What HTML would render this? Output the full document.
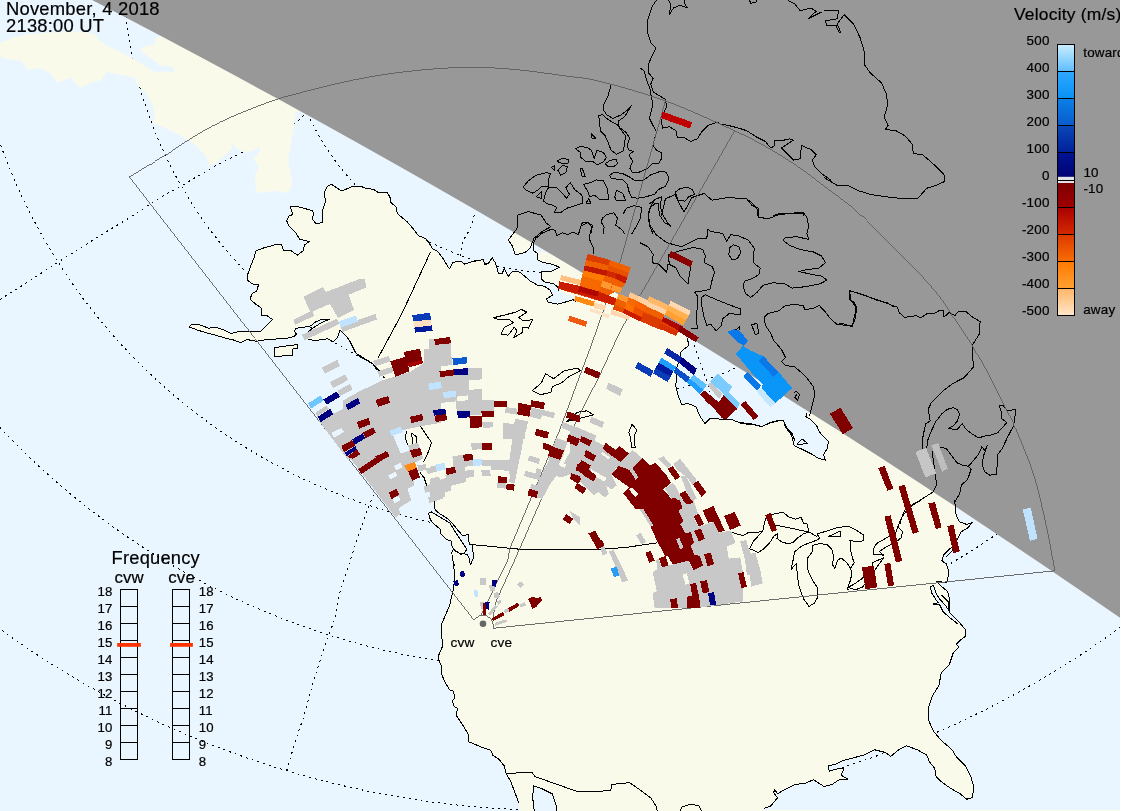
<!DOCTYPE html><html><head><meta charset="utf-8"><title>SuperDARN cvw/cve velocity map</title>
<style>html,body{margin:0;padding:0;background:#fff}body{width:1124px;height:811px;overflow:hidden}svg{display:block}text{font-family:"Liberation Sans",Arial,Helvetica,sans-serif;fill:#000;letter-spacing:0.22px;stroke:#000;stroke-width:0.2px}</style></head><body>
<svg width="1124" height="811" viewBox="0 0 1124 811">
<rect x="0" y="0" width="1124" height="811" fill="#fff"/>
<defs><clipPath id="cp"><rect x="0" y="0" width="1120" height="811"/></clipPath></defs>
<g clip-path="url(#cp)">
<rect x="0" y="0" width="1120" height="811" fill="#EAF6FF"/>
<g fill="none" stroke="#000" stroke-width="1" stroke-dasharray="1.9 4.1" shape-rendering="crispEdges">
<path d="M0.0 299.5 L26.7 282.7 L57.4 262.7 L101.4 234.7 L128.1 218.7 L160.1 197.5 L184.2 184.2 L213.5 166.8 L242.9 152.1 L296.3 122.8 L305.3 113.4"/>
<path d="M474.3 215.1 L472.8 221.4 L470.7 227.6 L467.2 233.8 L463.6 240.0 L461.8 246.3 L460.9 253.4 L460.6 256.9"/>
<path d="M694.3 345.4 L697.0 353.4 L699.6 362.3 L703.2 371.2 L705.9 378.3 L707.7 383.6 L709.4 392.5"/>
<path d="M373.4 494.7 L366.7 512.1 L357.4 538.8 L349.4 562.8 L340.0 592.1 L334.7 619.0 L328.0 637.7 L318.7 664.4 L310.7 691.1 L302.7 720.4 L300.0 727.1 L293.6 747.1 L286.9 769.8"/>
<circle cx="555.7" cy="-0.5" r="273.1"/>
<circle cx="559.6" cy="-30.8" r="436.0"/>
<circle cx="556.7" cy="-54.9" r="590.9"/>
<circle cx="560.0" cy="-95.9" r="766.5"/>
<circle cx="559.0" cy="-141.3" r="951.8"/>
</g>
<g fill="#FAFAEB" stroke="none">
<path d="M380.0 371.2 L375.7 368.5 L373.1 364.1 L366.8 360.5 L359.7 356.9 L356.2 353.4 L353.5 348.0 L349.9 340.9 L346.4 336.5 L340.1 330.2 L337.5 337.4 L333.0 341.8 L327.7 338.8 L315.2 340.6 L308.1 339.1 L304.6 335.6 L312.6 328.1 L322.3 322.2 L329.5 319.2 L320.6 319.6 L315.2 322.2 L310.8 325.8 L302.8 327.6 L296.5 328.1 L293.9 331.1 L296.5 333.8 L293.9 336.5 L286.8 338.3 L279.6 338.8 L267.2 339.5 L256.5 341.3 L246.7 339.5 L240.5 342.7 L233.4 340.0 L226.3 338.3 L215.6 335.2 L206.7 332.9 L197.8 330.2 L189.3 327.0 L191.6 324.0 L199.6 324.9 L208.5 328.1 L216.5 327.6 L224.5 330.2 L230.7 333.5 L238.7 331.7 L251.2 332.0 L261.0 331.1 L272.5 319.6 L266.3 315.1 L261.5 316.0 L262.0 314.0 L261.1 307.9 L254.9 303.5 L249.9 299.0 L252.2 293.7 L256.7 291.0 L258.5 284.8 L252.2 283.9 L247.8 280.3 L247.8 275.0 L250.5 266.1 L254.0 258.1 L255.8 251.0 L263.8 247.9 L275.4 244.7 L281.6 244.4 L283.7 251.0 L290.5 250.4 L297.3 255.1 L303.0 251.0 L304.7 244.7 L309.2 241.5 L299.4 239.0 L295.8 232.6 L289.6 226.9 L286.6 220.7 L288.7 216.3 L292.6 214.5 L290.5 206.8 L297.6 206.5 L312.2 210.6 L314.0 214.1 L311.9 218.9 L316.3 223.9 L322.2 222.5 L322.5 210.9 L325.2 202.0 L324.7 191.4 L327.0 186.9 L331.1 184.2 L341.7 191.0 L352.8 186.4 L359.9 186.0 L365.2 188.1 L374.1 189.6 L377.7 192.2 L387.5 192.8 L390.1 197.6 L390.1 201.7 L396.4 207.4 L397.3 213.6 L407.0 221.6 L412.4 227.8 L418.6 235.8 L425.7 238.5 L430.0 243.8 L425.3 238.3 L428.9 242.7 L432.5 248.9 L437.8 251.6 L443.1 258.7 L449.4 269.0 L452.9 262.3 L460.9 261.4 L464.5 264.1 L473.4 261.4 L483.2 259.6 L484.9 264.9 L488.5 263.2 L492.1 257.8 L495.6 263.2 L498.3 273.0 L501.9 273.8 L504.5 268.5 L508.1 276.5 L512.5 271.2 L519.6 272.1 L525.0 276.5 L530.3 281.0 L537.4 285.1 L544.6 286.3 L549.9 289.9 L552.6 295.2 L546.3 298.8 L548.1 302.3 L557.9 304.1 L567.7 301.4 L573.0 299.6 L576.6 302.3 L585.0 272.0 L690.0 333.0 L687.2 338.3 L689.0 345.4 L681.0 351.6 L679.2 360.5 L676.5 368.5 L676.9 378.3 L675.6 385.4 L678.3 396.1 L681.9 405.0 L687.2 403.2 L696.1 406.8 L699.6 415.7 L705.0 423.7 L710.3 418.3 L721.0 419.2 L731.7 419.6 L742.3 423.7 L753.0 424.6 L761.9 426.3 L770.8 422.8 L777.9 421.0 L783.3 420.6 L786.8 428.1 L792.2 433.5 L794.8 440.6 L740.0 422.7 L750.7 423.6 L761.4 426.6 L770.2 422.7 L777.4 420.6 L783.6 420.6 L785.4 427.2 L791.6 435.2 L794.3 445.8 L802.3 449.4 L811.2 453.8 L818.3 458.3 L825.4 460.1 L823.6 454.7 L827.2 448.5 L828.4 441.4 L823.6 436.9 L819.2 431.6 L816.5 425.4 L811.2 420.0 L805.8 416.5 L806.7 412.9 L812.0 414.0 L950.0 500.0 L955.7 506.7 L956.1 515.6 L959.6 521.8 L966.8 524.5 L972.1 522.7 L967.7 528.0 L961.4 531.6 L957.0 539.6 L956.1 544.1 L950.7 548.5 L943.6 554.7 L941.9 561.0 L946.3 563.6 L948.1 569.0 L948.1 577.0 L946.7 582.8 L940.1 581.8 L936.9 581.8 L942.2 587.1 L947.5 591.2 L949.3 598.3 L949.0 610.8 L945.4 605.4 L940.1 599.6 L936.2 593.9 L933.3 585.0 L930.8 586.8 L931.2 592.1 L935.6 599.2 L938.3 602.8 L933.0 604.0 L939.7 604.9 L943.3 612.0 L949.0 617.0 L957.9 624.0 L941.4 595.0 L948.1 601.7 L949.4 612.3 L957.5 620.4 L965.5 629.7 L965.5 636.4 L960.1 640.4 L956.1 644.4 L958.8 647.0 L953.4 652.4 L949.4 664.4 L941.4 672.4 L938.8 685.7 L932.1 696.4 L928.6 707.1 L928.6 720.4 L933.4 731.1 L941.4 740.5 L952.1 749.8 L956.1 756.5 L965.5 765.8 L970.8 776.5 L974.0 787.2 L972.1 797.8 L966.8 799.2 L960.1 793.8 L950.8 788.5 L941.4 781.8 L936.1 776.5 L934.8 768.5 L929.4 761.8 L926.8 755.1 L917.4 749.8 L906.7 745.8 L898.7 749.8 L890.7 756.5 L885.4 752.5 L874.7 749.8 L864.0 755.1 L853.4 757.8 L842.7 760.5 L834.7 764.5 L828.0 765.8 L829.3 771.2 L838.7 768.5 L844.0 768.5 L841.3 775.2 L848.0 779.2 L840.0 779.2 L832.0 784.5 L824.0 786.6 L824.2 786.6 L813.5 779.7 L805.5 783.2 L794.8 784.5 L784.2 789.8 L777.5 793.8 L774.8 789.8 L773.5 792.5 L777.5 797.8 L770.8 805.9 L764.1 808.5 L763.3 816.5 L520.2 816.5 L518.9 803.2 L514.9 792.5 L510.9 781.8 L506.0 773.3 L504.2 765.8 L498.8 759.1 L492.7 755.1 L490.8 750.3 L481.5 747.1 L468.7 741.8 L468.1 733.8 L461.5 723.1 L456.1 715.1 L457.5 708.4 L453.5 705.8 L452.7 700.4 L454.8 697.8 L453.5 691.1 L449.5 689.8 L445.5 683.1 L442.0 675.1 L441.5 665.7 L438.3 659.1 L438.8 655.1 L442.8 645.7 L441.5 635.0 L441.5 624.4 L445.5 615.0 L449.5 605.7 L452.1 595.0 L453.5 589.5 L454.3 581.5 L454.8 573.5 L453.5 565.5 L454.4 566.0 L452.5 559.0 L451.8 552.6 L453.4 549.4 L456.6 551.7 L459.8 553.7 L464.1 553.7 L467.3 554.7 L469.4 559.0 L469.2 562.2 L470.7 564.1 L473.4 558.5 L472.6 544.6 L469.2 544.1 L468.3 534.4 L463.0 536.0 L458.7 531.2 L454.4 525.9 L450.2 521.1 L445.9 517.4 L440.6 514.2 L436.3 511.0 L434.4 507.8 L434.2 501.9 L432.0 491.7 L426.7 485.3 L424.6 480.0 L424.5 478.3 L420.0 472.5 L419.0 466.0 L421.0 460.0 L415.0 452.0 L408.0 445.0 L405.0 438.0 L406.0 431.0 L404.0 422.0 L398.0 410.0 L392.0 398.0 L386.0 385.0 L378.3 369.4 L372.0 363.1 L356.0 353.3 L348.9 340.0Z"/>
<path d="M-2.7 44.0 L13.3 37.4 L26.7 34.2 L53.4 32.6 L80.1 31.5 L93.4 33.4 L98.8 40.0 L106.8 45.4 L120.1 52.0 L133.5 58.7 L144.1 65.4 L154.8 72.1 L165.5 71.5 L173.5 72.6 L174.8 69.9 L170.8 66.2 L160.1 65.4 L153.5 60.1 L144.1 53.4 L140.1 49.4 L145.5 45.9 L154.8 44.0 L156.1 37.4 L160.1 36.0 L170.8 32.0 L300.0 101.4 L300.0 110.8 L296.3 112.1 L293.6 128.1 L288.3 160.1 L289.6 170.8 L292.3 184.2 L288.3 192.2 L277.6 190.8 L256.2 192.2 L254.9 174.8 L258.9 166.8 L253.6 158.8 L260.2 150.8 L258.9 146.8 L253.6 150.8 L242.9 152.1 L234.9 146.8 L230.9 142.8 L232.2 148.1 L226.9 153.5 L216.2 162.8 L208.2 165.5 L206.8 157.5 L197.5 146.8 L181.5 136.1 L165.5 128.1 L152.1 122.8 L154.8 117.4 L153.5 106.8 L145.5 92.1 L137.5 85.4 L134.8 77.4 L120.1 74.7 L106.8 72.1 L101.4 80.1 L90.7 82.7 L80.1 88.1 L70.7 77.4 L57.4 82.7 L50.7 73.4 L40.0 68.1 L28.0 69.9 L21.4 60.9 L8.0 59.3 L-2.7 56.0Z"/>
<path d="M255.8 173.6 L258.5 170.9 L265.6 164.7 L288.7 166.4 L291.4 177.1 L290.5 187.8 L288.7 192.2 L279.8 192.2 L276.3 190.5 L265.6 191.4 L257.6 193.1 L255.8 187.8Z"/>
<path d="M274.7 347.7 L286.8 345.9 L297.4 344.5 L297.8 348.4 L293.0 348.9 L292.5 355.2 L282.3 356.0 L274.7 356.6Z"/>
<path d="M428.8 513.1 L431.5 512.0 L435.2 514.2 L440.6 517.4 L445.9 520.6 L450.2 523.2 L452.3 527.0 L455.5 532.3 L459.8 538.7 L464.1 545.1 L466.7 549.4 L464.6 553.1 L460.9 554.2 L457.6 552.1 L453.4 548.9 L451.2 544.6 L451.8 541.4 L447.0 539.8 L442.7 535.5 L440.0 533.4 L440.6 529.6 L436.3 525.9 L432.0 522.2 L429.4 517.4Z"/>
<path d="M508.4 240.0 L517.0 228.5 L517.9 215.1 L528.5 211.6 L541.0 215.1 L546.3 223.1 L550.8 226.7 L542.8 231.1 L533.9 238.3 L530.3 248.0 L525.0 252.5 L515.2 254.8 L512.5 246.3Z"/>
<path d="M533.9 250.7 L537.4 253.4 L537.4 259.6 L542.8 262.3 L551.7 264.1 L559.7 267.3 L551.7 271.2 L541.9 271.2 L541.0 278.3 L544.6 281.9 L553.5 283.6 L557.9 287.2 L558.8 290.7 L565.9 294.3 L580.1 299.6 L600.0 290.0 L560.0 255.0Z"/>
</g>
<g fill="#EAF6FF" stroke="none">
<path d="M533.5 785.8 L541.5 788.5 L552.2 793.8 L556.2 805.9 L557.8 816.5 L534.9 816.5 L532.7 797.8Z"/>
</g>
<path d="M80.0 -6.3 L120.0 14.5 L160.0 35.5 L200.0 56.8 L240.0 78.3 L280.0 100.0 L320.0 122.0 L360.0 144.3 L400.0 166.8 L440.0 189.5 L480.0 212.6 L520.0 235.8 L560.0 259.4 L600.0 283.2 L640.0 307.2 L680.0 331.6 L720.0 356.2 L760.0 381.1 L800.0 406.2 L840.0 431.6 L880.0 457.3 L920.0 483.3 L960.0 509.6 L1000.0 536.2 L1040.0 563.0 L1080.0 590.2 L1120.0 617.7 L1124.0 620.4 L1130.0 630.0 L1130.0 -60.0 L80.0 -60.0Z" fill="#989898"/>
<g fill="none" stroke="#000" stroke-width="1" stroke-linejoin="round" shape-rendering="crispEdges">
<path d="M274.7 347.7 L286.8 345.9 L297.4 344.5 L297.8 348.4 L293.0 348.9 L292.5 355.2 L282.3 356.0 L274.7 356.6Z"/>
<path d="M428.8 513.1 L431.5 512.0 L435.2 514.2 L440.6 517.4 L445.9 520.6 L450.2 523.2 L452.3 527.0 L455.5 532.3 L459.8 538.7 L464.1 545.1 L466.7 549.4 L464.6 553.1 L460.9 554.2 L457.6 552.1 L453.4 548.9 L451.2 544.6 L451.8 541.4 L447.0 539.8 L442.7 535.5 L440.0 533.4 L440.6 529.6 L436.3 525.9 L432.0 522.2 L429.4 517.4Z"/>
<path d="M508.4 240.0 L517.0 228.5 L517.9 215.1 L528.5 211.6 L541.0 215.1 L546.3 223.1 L550.8 226.7 L542.8 231.1 L533.9 238.3 L530.3 248.0 L525.0 252.5 L515.2 254.8 L512.5 246.3Z"/>
<path d="M749.4 548.9 L753.8 540.9 L762.7 531.1 L764.5 523.1 L766.3 516.9 L773.4 514.2 L783.2 512.1 L788.5 516.9 L795.6 519.2 L801.0 517.4 L803.6 523.1 L807.2 524.0 L809.0 532.0 L803.6 533.8 L798.3 537.4 L793.0 542.7 L787.6 543.6 L781.4 541.8 L776.9 538.3 L777.8 533.8 L774.3 535.6 L769.8 542.7 L763.6 548.9 L758.3 552.5 L752.9 549.8Z"/>
<path d="M812.5 541.8 L802.7 545.4 L794.7 551.6 L793.0 560.5 L791.2 569.4 L796.5 563.2 L797.4 576.5 L799.2 587.2 L803.6 598.8 L809.0 606.4 L814.3 603.2 L817.9 597.0 L817.0 587.2 L812.5 580.1 L808.1 571.2 L807.2 558.7 L812.5 551.6 L812.9 545.4 L819.6 543.6 L826.8 544.5 L832.1 549.8 L833.9 558.7 L832.1 564.1 L834.8 568.5 L837.4 560.5 L841.0 557.8 L846.3 562.3 L850.8 568.5 L854.3 562.3 L852.6 558.7 L850.8 551.6 L849.9 540.0 L855.2 541.8 L863.2 540.9 L863.2 534.7 L855.2 529.4 L848.1 526.3 L837.4 527.6 L826.8 531.1 L817.0 533.8 L819.6 538.3 L817.0 540.0Z"/>
<path d="M828.5 536.5 L840.1 531.1 L841.0 536.5Z"/>
<path d="M848.1 587.2 L855.2 583.6 L862.3 578.3 L871.2 571.2 L873.0 562.3 L883.7 557.8 L881.0 561.4 L876.6 567.6 L871.2 574.7 L867.7 581.0 L862.3 587.2 L855.2 589.9Z"/>
<path d="M873.0 549.8 L876.6 543.6 L887.3 537.4 L895.3 533.8 L897.9 526.7 L902.4 531.1 L901.5 537.4 L895.3 542.7 L885.5 547.2 L879.3 551.6 L883.7 555.2 L873.9 554.3Z"/>
<path d="M493.3 317.8 L505.4 314.8 L516.1 312.1 L521.4 309.4 L526.8 312.1 L518.8 317.4 L523.2 321.0 L532.5 319.6 L528.5 328.1 L522.3 327.2 L522.3 332.6 L513.4 337.9 L517.0 330.8 L514.3 327.2 L508.1 335.2 L501.0 334.3 L504.5 327.2 L513.4 322.8 L509.0 319.2 L498.3 319.6Z"/>
<path d="M532.2 390.8 L541.5 382.8 L545.5 373.5 L553.6 378.8 L564.2 370.8 L577.6 368.1 L580.2 370.8 L569.6 376.1 L561.6 382.8 L552.2 386.8 L550.9 392.2 L540.2 394.8Z"/>
<path d="M566.9 421.5 L577.6 412.2 L586.9 410.8 L593.6 414.8 L582.9 417.5Z"/>
<path d="M632.0 424.2 L636.8 429.9 L634.2 436.1 L635.2 447.7 L631.7 447.7 L630.6 437.9 L628.8 432.6Z"/>
<path d="M796.9 444.1 L802.3 439.1 L807.3 443.2 L800.5 444.4Z"/>
<path d="M523.1 187.0 L528.5 180.7 L535.6 175.4 L546.3 172.7 L550.7 173.6 L548.0 180.7 L548.0 187.0 L541.8 186.1 L538.3 189.6 L532.9 193.2 L526.7 190.5Z"/>
<path d="M543.6 201.2 L545.4 193.2 L548.9 187.0 L556.9 187.9 L562.3 193.2 L566.7 198.5 L569.4 194.1 L565.8 187.9 L570.3 182.5 L574.7 189.6 L581.9 195.0 L582.7 203.0 L574.7 205.7 L566.7 208.3 L560.5 212.8 L554.3 212.8 L556.9 207.4 L551.6 204.8 L547.2 203.9Z"/>
<path d="M536.5 196.8 L541.8 191.4 L541.8 198.5Z"/>
<path d="M556.9 161.2 L562.3 158.5 L568.5 159.4 L568.5 163.0 L562.3 163.8Z"/>
<path d="M557.8 170.1 L562.3 165.6 L567.3 166.5 L565.8 172.7 L560.5 175.1Z"/>
<path d="M551.6 167.4 L554.8 165.6 L554.3 170.1Z"/>
<path d="M575.6 148.7 L580.1 146.6 L587.2 147.3 L591.6 150.5 L594.3 158.5 L597.0 150.5 L603.2 152.3 L606.4 157.6 L603.2 162.1 L597.0 164.7 L592.5 161.2 L585.4 161.2 L581.0 157.6 L580.1 152.3Z"/>
<path d="M605.0 163.8 L610.3 160.3 L616.5 159.4 L617.4 163.8 L613.9 166.5 L607.7 166.2Z"/>
<path d="M580.1 168.3 L582.2 168.3 L585.1 176.3 L582.2 176.7Z"/>
<path d="M591.1 133.6 L595.7 138.0 L591.6 138.0Z"/>
<path d="M586.3 203.0 L588.6 198.5 L590.7 203.0Z"/>
<path d="M583.6 184.3 L590.7 182.5 L596.1 179.9 L603.2 180.7 L607.7 189.6 L608.5 199.4 L599.6 199.4 L594.3 195.0 L589.9 196.8 L587.2 190.5Z"/>
<path d="M614.8 196.8 L616.5 190.5 L622.8 193.2 L625.4 200.3 L615.7 200.0Z"/>
<path d="M598.8 115.8 L602.3 114.6 L606.8 118.5 L612.1 122.0 L617.4 124.7 L621.0 130.0 L625.4 135.4 L624.6 145.2 L622.8 151.4 L616.5 154.1 L611.2 150.5 L607.7 141.6 L605.0 135.4 L600.5 130.9 L599.6 123.8Z"/>
<path d="M609.4 175.4 L613.9 172.2 L622.8 173.6 L629.9 177.2 L635.2 180.7 L644.1 179.9 L651.2 174.5 L660.1 171.5 L666.4 172.2 L669.0 179.0 L665.5 186.1 L658.4 189.6 L654.8 194.1 L645.9 196.8 L637.9 198.2 L631.7 197.7 L629.0 191.4 L627.2 184.3 L622.8 179.9 L615.7 179.0 L611.2 178.1Z"/>
<path d="M675.3 192.3 L679.7 188.8 L686.8 187.0 L692.2 189.6 L694.8 194.1 L688.6 196.8 L685.1 201.2 L677.9 200.3Z"/>
<path d="M729.4 248.0 L733.4 244.8 L738.8 246.7 L740.9 252.0 L737.4 258.7 L732.1 260.1 L728.9 254.7Z"/>
<path d="M701.4 297.4 L705.4 294.8 L717.4 300.1 L730.7 305.4 L740.9 308.9 L740.1 314.8 L729.4 313.4 L722.7 318.8 L721.4 325.4 L716.1 330.8 L710.7 324.1 L706.7 325.4 L704.1 317.4 L701.9 306.8Z"/>
<path d="M751.6 324.9 L756.9 323.3 L758.8 333.5 L755.3 334.3Z"/>
<path d="M734.8 330.8 L739.3 326.8 L738.8 332.1Z"/>
<path d="M380.0 371.2 L375.7 368.5 L373.1 364.1 L366.8 360.5 L359.7 356.9 L356.2 353.4 L353.5 348.0 L349.9 340.9 L346.4 336.5 L340.1 330.2 L337.5 337.4 L333.0 341.8 L327.7 338.8 L315.2 340.6 L308.1 339.1 L304.6 335.6 L312.6 328.1 L322.3 322.2 L329.5 319.2 L320.6 319.6 L315.2 322.2 L310.8 325.8 L302.8 327.6 L296.5 328.1 L293.9 331.1 L296.5 333.8 L293.9 336.5 L286.8 338.3 L279.6 338.8 L267.2 339.5 L256.5 341.3 L246.7 339.5 L240.5 342.7 L233.4 340.0 L226.3 338.3 L215.6 335.2 L206.7 332.9 L197.8 330.2 L189.3 327.0 L191.6 324.0 L199.6 324.9 L208.5 328.1 L216.5 327.6 L224.5 330.2 L230.7 333.5 L238.7 331.7 L251.2 332.0 L261.0 331.1 L272.5 319.6 L266.3 315.1 L261.5 316.0 L262.0 314.0 L261.1 307.9 L254.9 303.5 L249.9 299.0 L252.2 293.7 L256.7 291.0 L258.5 284.8 L252.2 283.9 L247.8 280.3 L247.8 275.0 L250.5 266.1 L254.0 258.1 L255.8 251.0 L263.8 247.9 L275.4 244.7 L281.6 244.4 L283.7 251.0 L290.5 250.4 L297.3 255.1 L303.0 251.0 L304.7 244.7 L309.2 241.5 L299.4 239.0 L295.8 232.6 L289.6 226.9 L286.6 220.7 L288.7 216.3 L292.6 214.5 L290.5 206.8 L297.6 206.5 L312.2 210.6 L314.0 214.1 L311.9 218.9 L316.3 223.9 L322.2 222.5 L322.5 210.9 L325.2 202.0 L324.7 191.4 L327.0 186.9 L331.1 184.2 L341.7 191.0 L352.8 186.4 L359.9 186.0 L365.2 188.1 L374.1 189.6 L377.7 192.2 L387.5 192.8 L390.1 197.6 L390.1 201.7 L396.4 207.4 L397.3 213.6 L407.0 221.6 L412.4 227.8 L418.6 235.8 L425.7 238.5 L430.0 243.8"/>
<path d="M425.3 238.3 L428.9 242.7 L432.5 248.9 L437.8 251.6 L443.1 258.7 L449.4 269.0 L452.9 262.3 L460.9 261.4 L464.5 264.1 L473.4 261.4 L483.2 259.6 L484.9 264.9 L488.5 263.2 L492.1 257.8 L495.6 263.2 L498.3 273.0 L501.9 273.8 L504.5 268.5 L508.1 276.5 L512.5 271.2 L519.6 272.1 L525.0 276.5 L530.3 281.0 L537.4 285.1 L544.6 286.3 L549.9 289.9 L552.6 295.2 L546.3 298.8 L548.1 302.3 L557.9 304.1 L567.7 301.4 L573.0 299.6 L576.6 302.3"/>
<path d="M687.2 338.3 L689.0 345.4 L681.0 351.6 L679.2 360.5 L676.5 368.5 L676.9 378.3 L675.6 385.4 L678.3 396.1 L681.9 405.0 L687.2 403.2 L696.1 406.8 L699.6 415.7 L705.0 423.7 L710.3 418.3 L721.0 419.2 L731.7 419.6 L742.3 423.7 L753.0 424.6 L761.9 426.3 L770.8 422.8 L777.9 421.0 L783.3 420.6 L786.8 428.1 L792.2 433.5 L794.8 440.6"/>
<path d="M740.0 422.7 L750.7 423.6 L761.4 426.6 L770.2 422.7 L777.4 420.6 L783.6 420.6 L785.4 427.2 L791.6 435.2 L794.3 445.8 L802.3 449.4 L811.2 453.8 L818.3 458.3 L825.4 460.1 L823.6 454.7 L827.2 448.5 L828.4 441.4 L823.6 436.9 L819.2 431.6 L816.5 425.4 L811.2 420.0 L805.8 416.5 L806.7 412.9"/>
<path d="M809.5 415.9 L812.2 405.5 L814.8 394.8 L813.5 386.8 L805.5 376.2 L794.8 366.8 L785.5 365.5 L781.5 361.5 L785.5 357.5 L781.5 349.5 L773.5 340.1 L770.8 333.5 L765.4 325.4 L764.1 317.4"/>
<path d="M764.1 317.4 L768.1 313.4 L778.8 310.8 L785.5 305.4 L794.8 304.6 L803.3 305.4 L804.9 310.0 L813.5 308.1 L819.4 305.4 L824.2 310.8 L829.5 317.4 L836.2 324.1 L845.5 325.4 L852.2 326.0 L854.9 314.8 L855.7 306.8 L850.9 300.1 L849.5 290.7 L866.9 296.1 L885.5 302.8 L896.2 306.8"/>
<path d="M820.0 307.4 L825.3 311.8 L830.7 318.9 L836.9 324.3 L842.2 323.4 L852.0 326.6 L855.6 318.0 L856.5 307.4 L853.8 302.0 L849.4 299.4 L849.4 290.5 L849.4 290.5 L860.9 294.0 L876.9 300.2 L887.6 302.9 L893.0 306.5 L897.4 307.0 L899.2 312.7 L904.5 317.2 L911.6 316.6 L916.1 315.4 L920.5 318.0 L927.7 313.2 L933.9 313.6 L939.2 310.6 L943.7 310.0 L944.0 317.2 L949.0 312.7 L955.2 315.4 L957.9 311.8 L965.9 311.3 L971.2 316.3 L980.1 321.6 L979.3 334.1 L972.1 345.6 L973.4 367.0 L964.1 377.7 L957.0 381.2"/>
<path d="M959.6 380.0 L951.6 384.4 L944.5 389.8 L937.4 396.9 L931.1 403.1 L928.1 409.4 L929.4 415.6 L930.2 420.9 L925.8 423.6 L924.0 431.6 L922.2 440.5 L922.2 448.5"/>
<path d="M926.7 448.5 L927.6 440.5 L931.1 431.6 L935.6 421.8 L941.8 413.8 L947.2 409.4 L953.4 407.6 L957.8 410.2 L959.6 414.7 L956.9 421.8 L952.5 426.3 L948.0 428.4 L956.9 429.8 L962.3 423.6 L965.8 428.9 L971.2 433.4 L978.3 437.8 L985.4 436.0 L992.5 434.8 L997.9 432.5 L1003.2 426.6 L1006.8 422.7 L1001.4 418.3 L1001.1 411.1 L999.3 405.4 L1003.2 405.8 L1006.8 410.2 L1015.7 409.9 L1014.8 417.4 L1013.5 425.9 L1006.8 438.7 L1002.3 448.5 L997.0 455.6 L997.5 463.6 L996.1 474.3 L989.9 475.2 L984.5 471.6 L982.2 464.5 L983.6 455.6 L987.2 445.8 L984.5 450.3 L981.9 446.7 L978.3 454.7 L973.0 461.0 L968.5 466.3 L971.2 469.0 L967.6 479.6 L961.4 485.0 L959.6 493.9 L954.3 502.8"/>
<path d="M968.5 466.3 L963.2 465.4 L956.9 462.7 L951.6 455.6 L946.3 448.5 L940.0 447.3"/>
<path d="M932.0 451.2 L935.6 476.1 L936.5 485.0 L932.9 492.1 L916.0 502.8 L907.1 509.9 L901.8 517.0 L900.0 524.0"/>
<path d="M954.3 500.5 L955.7 506.7 L956.1 515.6 L959.6 521.8 L966.8 524.5 L972.1 522.7 L967.7 528.0 L961.4 531.6 L957.0 539.6 L956.1 544.1 L950.7 548.5 L943.6 554.7 L941.9 561.0 L946.3 563.6 L948.1 569.0 L948.1 577.0 L946.7 582.8 L940.1 581.8 L936.9 581.8 L942.2 587.1 L947.5 591.2 L949.3 598.3 L949.0 610.8 L945.4 605.4 L940.1 599.6 L936.2 593.9 L933.3 585.0 L930.8 586.8 L931.2 592.1 L935.6 599.2 L938.3 602.8 L933.0 604.0 L939.7 604.9 L943.3 612.0 L949.0 617.0 L957.9 624.0"/>
<path d="M942.7 556.5 L949.0 549.4 L957.0 543.2 L952.5 550.3 L945.4 557.4"/>
<path d="M941.4 595.0 L948.1 601.7 L949.4 612.3 L957.5 620.4 L965.5 629.7 L965.5 636.4 L960.1 640.4 L956.1 644.4 L958.8 647.0 L953.4 652.4 L949.4 664.4 L941.4 672.4 L938.8 685.7 L932.1 696.4 L928.6 707.1 L928.6 720.4 L933.4 731.1 L941.4 740.5 L952.1 749.8 L956.1 756.5 L965.5 765.8 L970.8 776.5 L974.0 787.2 L972.1 797.8 L966.8 799.2 L960.1 793.8 L950.8 788.5 L941.4 781.8 L936.1 776.5 L934.8 768.5 L929.4 761.8 L926.8 755.1 L917.4 749.8 L906.7 745.8 L898.7 749.8 L890.7 756.5 L885.4 752.5 L874.7 749.8 L864.0 755.1 L853.4 757.8 L842.7 760.5 L834.7 764.5 L828.0 765.8 L829.3 771.2 L838.7 768.5 L844.0 768.5 L841.3 775.2 L848.0 779.2 L840.0 779.2 L832.0 784.5 L824.0 786.6"/>
<path d="M824.2 786.6 L813.5 779.7 L805.5 783.2 L794.8 784.5 L784.2 789.8 L777.5 793.8 L774.8 789.8 L773.5 792.5 L777.5 797.8 L770.8 805.9 L764.1 808.5"/>
<path d="M518.9 803.2 L514.9 792.5 L510.9 781.8 L506.0 773.3 L504.2 765.8 L498.8 759.1 L492.7 755.1 L490.8 750.3 L481.5 747.1 L468.7 741.8 L468.1 733.8 L461.5 723.1 L456.1 715.1 L457.5 708.4 L453.5 705.8 L452.7 700.4 L454.8 697.8 L453.5 691.1 L449.5 689.8 L445.5 683.1 L442.0 675.1 L441.5 665.7 L438.3 659.1 L438.8 655.1 L442.8 645.7 L441.5 635.0 L441.5 624.4 L445.5 615.0 L449.5 605.7 L452.1 595.0 L453.5 589.5 L454.3 581.5 L454.8 573.5 L453.5 565.5 L454.4 566.0 L452.5 559.0 L451.8 552.6 L453.4 549.4 L456.6 551.7 L459.8 553.7 L464.1 553.7 L467.3 554.7 L469.4 559.0 L469.2 562.2 L470.7 564.1 L473.4 558.5 L472.6 544.6 L469.2 544.1 L468.3 534.4 L463.0 536.0 L458.7 531.2 L454.4 525.9 L450.2 521.1 L445.9 517.4 L440.6 514.2 L436.3 511.0 L434.4 507.8 L434.2 501.9 L432.0 491.7 L426.7 485.3 L424.6 480.0"/>
<path d="M348.9 340.0 L356.0 353.3 L372.0 363.1 L378.3 369.4 L384.5 378.3"/>
<path d="M420.5 426.2 L431.6 442.7 L428.0 452.5 L423.6 462.3"/>
<path d="M406.5 431.0 L405.5 437.0 L406.5 442.0 L408.5 446.0"/>
<path d="M411.5 433.0 L413.0 444.0"/>
<path d="M411.5 433.0 L417.0 437.0 L416.5 443.0"/>
<path d="M420.0 472.5 L424.5 478.3 L426.7 485.8"/>
<path d="M401.5 462.0 L401.5 467.0"/>
<path d="M406.0 460.0 L410.5 462.5"/>
<path d="M430.5 252.0 L401.7 314.0 L378.0 358.0"/>
<path d="M533.9 250.7 L537.4 253.4 L537.4 259.6 L542.8 262.3 L551.7 264.1 L559.7 267.3 L551.7 271.2 L541.9 271.2 L541.0 278.3 L544.6 281.9 L553.5 283.6 L557.9 287.2 L558.8 290.7"/>
<path d="M533.9 250.7 L533.0 244.5 L535.7 238.3 L542.8 232.9 L550.8 229.4 L555.2 230.2 L557.0 235.6 L562.3 232.9 L567.7 234.7 L573.0 232.0 L578.4 234.7 L580.1 228.5 L581.9 223.1 L588.1 222.2 L591.7 226.7 L589.0 238.3 L593.5 248.0 L593.5 254.3"/>
<path d="M534.9 816.5 L532.7 797.8 L533.5 785.8 L541.5 788.5 L552.2 793.8 L556.2 805.9 L557.8 816.5"/>
<path d="M472.2 544.6 L521.5 549.4 L600.0 549.4"/>
<path d="M600.0 549.4 L626.7 547.3 L657.4 542.8"/>
<path d="M730.7 532.0 L736.0 533.8 L743.1 535.6 L749.4 532.0 L755.6 532.9 L762.7 531.1"/>
<path d="M506.0 773.3 L532.2 772.5 L534.9 776.5 L576.2 791.2 L600.0 791.2"/>
<path d="M600.0 791.2 L610.7 790.6 L612.0 784.5 L629.4 782.6 L640.0 789.8 L650.7 797.8 L656.0 805.9 L658.7 816.5"/>
<path d="M679.3 816.5 L681.4 807.2 L690.7 804.0 L698.8 805.9 L704.6 816.5"/>
<path d="M773.4 524.6 L809.0 532.0 L817.0 536.5"/>
<path d="M850.8 568.5 L851.7 574.7 L849.9 581.9 L847.2 589.0 L849.0 589.9"/>
<path d="M897.9 526.7 L901.5 517.8 L905.1 509.8 L914.0 503.6 L920.0 500.9"/>
<path d="M611.2 84.7 L607.7 97.1 L604.1 103.3 L603.2 109.6 L606.8 114.9 L613.0 118.5 L621.0 114.9 L628.1 109.6 L631.7 105.1 L624.6 116.7 L618.3 121.1 L619.2 127.4 L625.4 131.8 L629.9 138.0 L627.8 143.4 L628.1 149.6 L633.1 151.4 L629.0 154.9 L632.6 161.2 L629.9 168.3 L632.6 172.7 L640.6 171.9 L647.7 168.3 L653.0 163.0 L658.4 163.8 L661.6 158.5 L661.0 152.3 L656.6 150.5 L653.0 145.2 L654.8 138.0 L656.6 131.8 L653.0 125.6 L649.5 118.5 L651.2 111.4 L653.0 104.2 L651.2 97.1 L650.4 90.0"/>
<path d="M622.8 214.6 L626.3 208.3 L633.5 205.7 L641.5 207.4 L640.6 218.1 L637.0 225.2 L631.7 234.0"/>
<path d="M603.2 234.0 L604.1 227.0 L601.4 222.6 L602.3 218.1 L606.8 214.6 L613.9 212.8 L617.4 218.1 L615.7 225.2 L622.8 230.6 L624.6 234.0"/>
<path d="M649.5 203.9 L654.8 199.4 L661.9 196.8 L660.1 205.7 L662.8 214.6 L667.3 222.6 L670.8 226.1 L664.6 222.6 L659.3 214.6 L658.4 203.9 L654.8 203.9 L650.4 207.4 L648.6 214.6 L649.5 225.2 L653.0 234.0"/>
<path d="M578.3 234.0 L581.0 226.1 L587.2 222.6 L592.5 225.2 L590.7 234.0"/>
<path d="M660.0 -5.3 L652.0 6.7 L648.0 18.7 L647.5 32.0 L650.7 42.7 L656.0 48.0 L652.0 56.0 L648.5 64.1 L648.0 72.1 L653.3 78.7 L650.7 84.1 L653.3 92.1 L660.0 96.1 L665.4 99.3 L666.7 106.8 L662.7 114.8 L661.4 122.8 L662.7 128.1 L669.4 126.8 L676.0 130.8 L677.4 137.5 L684.0 137.5 L690.7 141.5 L697.4 138.8 L701.4 132.1 L708.1 125.4 L717.4 122.2 L720.1 124.1 L728.1 125.4 L738.8 128.1 L746.8 130.8 L757.4 137.5 L765.4 141.5 L770.8 148.1 L774.8 145.5 L774.8 140.1 L784.1 140.1 L789.5 138.8 L793.5 140.1 L781.5 148.1 L793.5 160.1 L800.1 158.8 L801.5 145.5 L810.8 149.5 L816.2 154.8 L812.2 160.1 L814.8 166.8 L821.5 173.5 L830.8 180.2"/>
<path d="M786.3 -2.7 L789.5 1.3 L794.8 4.0 L800.1 10.7 L810.8 8.0 L816.2 11.2 L808.1 18.7 L821.5 12.0"/>
<path d="M748.1 -2.7 L750.8 3.2 L756.1 2.1 L756.1 -2.7"/>
<path d="M640.0 68.1 L644.0 70.7 L646.7 80.1 L650.7 90.7"/>
<path d="M666.7 -2.7 L670.7 4.0 L669.4 14.7 L673.4 8.0 L680.0 5.3 L687.5 8.0 L684.0 2.7 L685.4 -2.7"/>
<path d="M661.4 215.9 L665.4 198.8 L674.7 194.8 L684.0 212.2 L692.0 197.5 L704.1 193.5 L712.1 200.2 L728.1 197.5 L746.8 198.8 L752.1 205.5 L758.8 208.2 L757.4 215.9"/>
<path d="M773.5 215.9 L778.8 213.5 L802.8 213.5 L804.1 215.9"/>
<path d="M824.0 10.7 L838.7 10.1 L837.3 18.7 L825.3 20.8 L826.7 25.4 L836.0 25.4 L838.7 32.0 L840.5 32.0 L837.3 24.0 L844.0 14.7 L853.4 24.0 L860.0 37.4 L864.0 50.7 L864.0 64.1 L870.7 73.4 L881.4 82.7 L886.7 94.8 L887.5 105.4 L884.1 117.4 L888.1 125.4 L885.4 129.4 L896.1 130.8 L905.4 136.1 L912.1 144.1 L913.4 153.5 L922.8 154.8 L933.4 164.1 L944.1 174.8 L944.6 181.5 L936.1 185.5 L926.8 188.2 L917.4 198.8 L904.1 198.8 L888.1 197.0 L872.0 194.8 L858.7 190.8 L848.0 185.5 L837.3 185.5 L824.0 177.5"/>
<path d="M749.4 200.0 L757.4 209.3 L758.8 217.3 L768.1 218.7 L778.8 214.7 L792.1 213.3 L802.8 212.0 L806.8 217.3 L808.7 226.7 L806.8 233.4 L808.7 239.5 L797.5 236.8 L785.5 237.4 L782.8 240.0 L789.5 245.4 L800.1 249.4 L813.5 252.0 L821.5 256.0 L825.5 262.7 L818.8 268.1 L805.5 269.9 L798.8 271.5 L810.8 274.2 L821.5 276.1 L826.8 280.1 L818.8 284.1 L805.5 286.7 L792.1 288.1 L785.5 284.1 L773.5 282.7 L762.8 285.4 L757.4 292.1 L750.8 297.4 L745.4 293.4 L743.6 288.1 L744.1 281.4 L752.1 278.7 L758.8 274.7 L760.1 268.1 L753.4 262.7 L754.2 248.0 L748.1 240.0 L738.8 236.0 L730.7 234.7 L726.7 241.4 L722.7 233.4 L710.7 231.5 L708.1 228.8 L706.7 238.7 L697.4 238.7 L689.4 242.7 L681.4 246.7 L666.7 242.7 L656.0 234.7 L649.3 224.0 L648.0 213.3 L652.0 204.0 L656.0 198.7"/>
<path d="M680.0 250.7 L693.4 247.5 L702.7 249.4 L705.4 256.0 L704.1 262.7 L712.1 266.7 L714.7 272.1 L712.1 280.1 L709.9 289.4 L704.1 290.7 L694.7 292.1 L697.4 296.1 L697.4 306.8 L696.0 317.4 L697.4 328.1 L690.7 328.1"/>
<path d="M680.0 250.7 L668.0 254.7 L669.4 264.1 L676.0 268.1 L680.0 276.1 L688.0 284.1 L689.4 274.7 L690.7 266.7"/>
<path d="M640.0 242.7 L648.0 246.7 L653.3 254.7 L652.0 262.7 L658.7 264.1 L666.7 272.1 L668.0 264.1 L674.7 266.7"/>
<path d="M793.5 393.5 L796.1 390.8 L799.6 394.8 L797.5 400.2 L794.8 397.5 L796.9 394.3"/>
<path d="M820.0 275.3 L827.1 279.8 L820.0 284.2"/>
</g>
<g fill="none" stroke="#5E5E5E" stroke-width="0.9" shape-rendering="crispEdges">
<path d="M129.4 177.0 L473.6 619.6 L481.1 615.0 L485.9 615.3 L490.2 618.2 L492.3 620.9 L493.0 624.0 L493.1 628.3 L1054.9 570.8"/>
<path d="M481.1 615.0 L507.8 560.0 L509.5 549.4 L558.9 432.0 L591.7 344.0 L607.1 300.0 L620.0 262.3 L665.4 100.9"/>
<path d="M492.8 619.8 L495.5 602.7 L514.7 560.0 L570.9 432.0 L600.0 374.7 L620.0 331.7 L637.4 300.0 L734.7 130.8"/>
<path d="M129.4 177.0 C135.4 173.3 151.5 163.4 165.5 154.8 C179.5 146.2 196.6 134.1 213.5 125.4 C230.4 116.7 252.5 108.2 266.9 102.8 C281.3 97.4 285.6 96.7 300.0 92.9 C314.4 89.1 335.6 83.6 353.4 80.0 C371.2 76.4 388.1 73.6 406.8 71.5 C425.5 69.4 447.7 67.6 465.5 67.3 C483.3 67.0 496.6 67.9 513.5 69.4 C530.4 70.9 552.5 74.1 566.9 76.1 C581.3 78.1 583.6 77.3 600.0 81.4 C616.4 85.5 642.9 92.7 665.4 100.9 C687.9 109.1 717.2 122.7 734.7 130.8 C752.2 138.9 759.8 143.3 770.7 149.5 C781.6 155.7 790.8 161.7 800.1 168.1 C809.5 174.5 819.7 182.9 826.8 188.2 C833.9 193.5 837.0 195.4 842.8 200.0 C848.6 204.6 849.3 204.3 861.5 216.0 C873.7 227.7 902.9 256.4 916.0 270.0 C929.1 283.6 934.0 290.0 940.0 297.4 C946.0 304.8 946.2 306.3 951.7 314.5 C957.2 322.7 966.4 335.6 973.0 346.5 C979.6 357.4 986.0 369.3 991.6 380.0 C997.2 390.7 1003.1 403.2 1006.8 410.6 C1010.5 418.0 1009.4 413.9 1013.9 424.5 C1018.4 435.1 1028.2 457.7 1033.5 474.3 C1038.8 490.9 1042.3 507.9 1045.9 524.0 C1049.5 540.1 1053.4 563.0 1054.9 570.8"/>
</g>
<g stroke="none" shape-rendering="crispEdges">
<path d="M303.4 296.7 L322.7 287.3 L326.0 292.0 L358.7 279.3 L364.7 279.3 L366.7 287.3 L348.7 294.7 L354.1 310.0 L338.1 318.0 L330.0 304.0 L312.7 311.4 L314.0 316.0 L295.3 324.7 L293.3 320.0 L310.0 311.4Z" fill="#C8C8C8"/>
<path d="M302.0 334.7 L336.7 318.7 L339.4 324.0 L304.7 340.1Z" fill="#C8C8C8"/>
<path d="M357.4 320.0 L375.4 314.0 L377.0 319.4 L342.7 332.0 L340.7 327.4 L358.1 321.4Z" fill="#C8C8C8"/>
<path d="M322.0 367.4 L337.4 360.1 L340.1 366.1 L324.7 373.4Z" fill="#C8C8C8"/>
<path d="M330.4 382.1 L345.4 374.5 L348.1 380.1 L333.4 388.0Z" fill="#C8C8C8"/>
<path d="M373.0 360.7 L388.8 356.1 L390.5 361.4 L375.4 366.1Z" fill="#C8C8C8"/>
<path d="M377.4 371.4 L392.1 366.7 L393.4 372.1 L379.4 376.8Z" fill="#C8C8C8"/>
<path d="M318.7 420.7 L343.4 408.7 L342.7 400.7 L359.4 391.4 L383.4 380.0 L396.8 376.0 L410.1 372.0 L423.5 363.3 L423.5 348.7 L441.3 348.7 L441.3 422.7 L420.1 426.3 L403.4 430.1 L391.4 431.4 L401.4 455.4 L410.1 452.8 L408.1 446.1 L418.1 443.4 L421.5 455.4 L412.8 458.8 L347.4 458.8Z" fill="#C8C8C8"/>
<path d="M315.4 412.7 L326.7 405.4 L328.7 408.7 L317.4 416.7Z" fill="#C8C8C8"/>
<path d="M337.4 390.7 L350.1 384.0 L352.7 389.4 L340.0 396.0Z" fill="#C8C8C8"/>
<path d="M330.0 382.0 L344.7 374.7 L347.4 380.0 L332.7 387.4Z" fill="#C8C8C8"/>
<path d="M322.0 367.3 L336.7 360.0 L339.6 365.3 L324.7 373.4Z" fill="#C8C8C8"/>
<path d="M373.4 360.7 L388.8 356.0 L390.1 360.7 L375.4 365.3Z" fill="#C8C8C8"/>
<path d="M377.4 371.4 L392.1 366.7 L393.4 371.4 L379.4 376.0Z" fill="#C8C8C8"/>
<path d="M335.3 438.7 L392.7 438.7 L399.4 454.0 L410.1 450.7 L408.1 445.3 L418.1 442.7 L423.4 458.7 L415.4 462.0 L413.4 480.7 L414.1 485.4 L407.4 488.7 L411.4 500.1 L398.7 508.1 L400.7 514.1 L395.4 517.4Z" fill="#C8C8C8"/>
<path d="M417.4 465.4 L425.4 464.0 L426.8 468.7 L436.1 466.0 L436.8 471.4 L428.1 474.0 L426.1 470.0 L418.7 471.4Z" fill="#C8C8C8"/>
<path d="M452.1 456.7 L462.8 454.7 L464.8 460.7 L472.8 460.0 L473.5 465.4 L464.1 466.7 L464.8 470.7 L473.5 470.0 L474.1 476.7 L466.1 478.0 L466.1 482.0 L450.1 486.0 L450.8 490.7 L444.8 492.0 L444.8 496.7 L429.4 502.7 L428.1 497.4 L433.4 495.4 L432.8 491.4 L425.4 492.7 L423.4 486.7 L429.4 484.7 L430.1 478.7 L438.1 476.7 L439.4 480.0 L446.1 478.0 L445.4 475.4 L456.1 472.7 L454.8 466.7 L453.4 462.0Z" fill="#C8C8C8"/>
<path d="M471.5 444.0 L480.0 443.3 L480.0 448.7 L472.1 449.6Z" fill="#C8C8C8"/>
<path d="M428.7 339.3 L434.7 338.7 L435.3 344.7 L450.7 343.3 L452.0 365.0 L438.7 366.7 L439.6 376.7 L454.0 375.4 L468.0 374.7 L468.0 368.0 L482.0 368.0 L482.0 379.4 L469.0 380.0 L469.0 390.1 L482.0 388.7 L482.0 400.1 L494.1 400.1 L494.1 410.7 L481.4 411.1 L481.4 415.4 L470.0 415.4 L470.0 411.4 L456.7 411.7 L456.0 401.4 L443.3 402.7 L432.7 406.7 L433.3 422.8 L428.7 423.4Z" fill="#C8C8C8"/>
<path d="M482.3 422.1 L492.7 421.8 L492.7 427.4 L482.7 427.8Z" fill="#C8C8C8"/>
<path d="M505.8 407.1 L517.4 408.7 L516.7 414.7 L505.1 412.7Z" fill="#C8C8C8"/>
<path d="M531.2 407.4 L542.8 410.1 L554.8 412.7 L554.1 418.1 L542.1 415.4 L540.8 419.4 L529.8 416.7Z" fill="#C8C8C8"/>
<path d="M515.4 418.7 L528.1 421.4 L526.8 427.4 L525.4 431.4 L524.8 438.8 L502.7 438.8 L503.4 422.8 L514.1 424.1Z" fill="#C8C8C8"/>
<path d="M563.5 422.1 L580.0 428.8 L580.0 434.1 L562.8 427.4Z" fill="#C8C8C8"/>
<path d="M502.7 422.7 L515.4 424.7 L516.7 420.0 L528.1 421.3 L526.8 428.0 L525.4 432.0 L523.4 437.3 L522.1 446.7 L519.4 460.0 L516.7 473.4 L514.7 483.4 L508.7 482.1 L510.1 476.1 L508.7 470.7 L491.4 470.0 L490.7 466.0 L482.0 466.0 L481.8 460.0 L509.4 460.0 L512.7 437.3 L514.1 433.3 L502.7 433.3Z" fill="#C8C8C8"/>
<path d="M471.4 443.4 L482.0 443.0 L482.3 449.4 L471.6 449.6Z" fill="#C8C8C8"/>
<path d="M452.7 456.0 L463.4 455.0 L464.0 460.0 L472.7 459.4 L473.0 466.0 L464.7 466.7 L464.4 470.7 L474.0 470.0 L474.3 476.1 L466.0 477.4 L465.4 482.1 L451.4 485.4 L451.1 490.7 L443.3 492.7 L442.7 498.7 L430.0 502.7 L430.0 478.7 L439.3 476.7 L440.0 480.1 L447.3 478.1 L446.7 471.4 L453.4 469.4Z" fill="#C8C8C8"/>
<path d="M430.0 466.7 L436.0 465.4 L436.9 471.4 L430.0 473.4Z" fill="#C8C8C8"/>
<path d="M481.4 470.4 L490.1 470.0 L490.7 476.1 L481.8 476.3Z" fill="#C8C8C8"/>
<path d="M497.4 482.7 L506.1 483.4 L505.4 488.7 L496.7 487.4Z" fill="#C8C8C8"/>
<path d="M556.1 438.0 L567.5 441.4 L563.5 454.7 L561.5 458.7 L558.1 465.4 L556.1 476.1 L550.1 484.1 L546.1 492.1 L542.1 498.7 L536.8 497.4 L538.1 492.1 L532.8 490.1 L530.1 488.1 L531.4 484.1 L536.8 485.4 L540.8 476.1 L543.4 470.7 L548.8 460.0 L549.4 456.0 L554.1 444.0Z" fill="#C8C8C8"/>
<path d="M563.5 422.7 L580.0 428.7 L580.0 434.7 L568.8 430.7 L562.1 428.0Z" fill="#C8C8C8"/>
<path d="M528.8 455.4 L540.1 458.7 L538.8 464.0 L528.1 460.7Z" fill="#C8C8C8"/>
<path d="M525.4 470.7 L535.4 473.4 L536.8 468.0 L541.4 469.4 L539.4 480.1 L524.1 476.1Z" fill="#C8C8C8"/>
<path d="M568.8 454.0 L580.0 445.4 L580.0 476.1 L571.5 473.4 L562.1 477.4 L555.5 476.1 L558.1 465.4 L563.5 464.0 L566.1 458.7Z" fill="#C8C8C8"/>
<path d="M568.8 510.1 L580.0 517.4 L580.0 525.4 L573.5 518.8Z" fill="#C8C8C8"/>
<path d="M570.0 425.4 L578.0 427.4 L596.0 436.0 L594.7 440.7 L602.7 444.7 L628.7 453.4 L632.7 450.0 L642.1 458.1 L630.7 470.1 L637.4 479.4 L634.1 481.4 L624.7 468.1 L618.0 466.1 L611.4 474.7 L616.7 485.4 L611.4 489.4 L606.0 485.4 L608.7 493.4 L604.7 497.4 L598.0 492.1 L594.0 495.4 L578.0 480.1 L570.0 478.7Z" fill="#C8C8C8"/>
<path d="M658.1 458.7 L663.4 456.1 L671.4 465.4 L667.4 468.1Z" fill="#C8C8C8"/>
<path d="M673.4 464.1 L680.1 458.7 L696.8 480.1 L692.8 485.4 L686.1 476.1 L683.4 474.7 L676.8 469.4Z" fill="#C8C8C8"/>
<path d="M680.8 476.1 L686.1 476.1 L696.8 498.8 L690.1 501.4Z" fill="#C8C8C8"/>
<path d="M664.8 488.7 L672.8 482.7 L676.8 488.1 L683.4 501.4 L680.8 506.8 L671.4 498.8Z" fill="#C8C8C8"/>
<path d="M590.0 420.0 L592.7 417.3 L604.0 422.7 L602.0 427.4Z" fill="#C8C8C8"/>
<path d="M680.1 500.0 L693.4 500.0 L698.1 513.3 L693.4 516.0 L698.1 526.7 L713.4 522.0 L718.8 532.7 L730.8 530.7 L735.5 542.7 L726.8 546.7 L728.8 558.7 L740.1 557.4 L743.5 574.7 L742.8 601.4 L693.4 608.4 L654.7 608.4 L652.7 593.4 L656.7 590.8 L652.7 572.1 L657.4 569.4 L656.1 560.1 L658.7 558.7 L661.4 566.7 L672.7 564.7 L688.1 560.7 L693.4 570.1 L702.8 565.4 L700.1 556.1 L694.1 554.7 L690.8 546.0 L694.1 542.7 L690.8 532.0 L685.4 533.4 L680.1 524.0 L683.4 521.4 L678.7 510.7 L682.1 507.3Z" fill="#C8C8C8"/>
<path d="M638.7 508.0 L642.7 508.0 L653.4 524.7 L650.7 526.7 L644.0 516.0Z" fill="#C8C8C8"/>
<path d="M676.1 539.4 L679.4 538.0 L683.4 547.4 L680.1 549.4Z" fill="#C8C8C8"/>
<path d="M600.0 546.7 L604.0 545.4 L607.3 553.4 L602.7 555.4Z" fill="#C8C8C8"/>
<path d="M608.7 551.4 L613.3 550.0 L618.7 560.1 L623.4 569.4 L628.0 580.7 L622.0 582.1 L617.3 570.7 L613.3 561.4Z" fill="#C8C8C8"/>
<path d="M636.0 535.4 L640.7 532.7 L646.0 542.0 L641.4 544.0Z" fill="#C8C8C8"/>
<path d="M740.1 542.0 L746.1 540.0 L750.0 553.4 L750.0 574.7 L746.8 574.7 L744.8 558.7Z" fill="#C8C8C8"/>
<path d="M608.7 382.7 L622.7 389.4 L620.1 396.1 L606.0 388.7Z" fill="#C8C8C8"/>
<path d="M591.4 416.7 L604.0 422.1 L602.0 428.1 L589.4 422.1Z" fill="#C8C8C8"/>
<path d="M562.7 422.1 L577.3 427.4 L596.0 435.4 L594.7 438.8 L573.3 432.8 L561.3 427.4Z" fill="#C8C8C8"/>
<path d="M707.3 384.7 L710.7 382.7 L722.7 394.1 L718.7 398.7Z" fill="#C8C8C8"/>
<path d="M740.0 541.4 L746.0 540.0 L750.7 554.0 L755.4 552.7 L760.0 568.7 L762.7 583.4 L751.4 586.7 L748.7 570.1 L744.0 554.0Z" fill="#C8C8C8"/>
<path d="M479.5 578.1 L485.9 578.1 L485.9 584.8 L479.7 584.8Z" fill="#C8C8C8"/>
<path d="M489.1 585.1 L493.9 584.6 L495.5 590.4 L490.2 591.5Z" fill="#C8C8C8"/>
<path d="M493.9 593.1 L498.2 592.0 L499.8 597.4 L494.4 598.4Z" fill="#C8C8C8"/>
<path d="M517.1 584.0 L521.1 581.1 L524.1 584.6 L519.9 588.0Z" fill="#C8C8C8"/>
<path d="M480.4 601.6 L484.3 601.6 L484.3 608.6 L480.6 608.6Z" fill="#C8C8C8"/>
<path d="M519.5 604.3 L524.9 602.2 L525.9 605.4 L520.6 607.5Z" fill="#C8C8C8"/>
<path d="M504.1 610.2 L508.3 608.0 L509.4 611.8 L505.1 613.4Z" fill="#C8C8C8"/>
<path d="M494.4 623.0 L506.2 619.3 L507.3 621.9 L495.0 625.7Z" fill="#C8C8C8"/>
<path d="M496.6 601.6 L500.3 600.0 L501.4 602.7 L498.2 604.8Z" fill="#C8C8C8"/>
<path d="M488.0 613.4 L495.5 604.8 L497.6 606.4 L490.2 615.5Z" fill="#C8C8C8"/>
<path d="M331.4 432.7 L341.4 428.1 L344.1 432.1 L334.0 437.4Z" fill="#EAF6FF"/>
<path d="M394.1 466.0 L400.7 462.7 L402.7 467.4 L396.1 470.4Z" fill="#EAF6FF"/>
<path d="M388.1 475.4 L395.4 472.0 L397.4 476.0 L390.1 479.4Z" fill="#EAF6FF"/>
<path d="M392.7 498.7 L398.7 496.1 L400.5 500.1 L394.5 503.0Z" fill="#EAF6FF"/>
<path d="M456.7 396.7 L468.0 395.4 L468.4 400.1 L457.1 401.4Z" fill="#FAFAEB"/>
<path d="M561.5 462.7 L566.1 464.7 L564.8 468.0 L560.1 466.0Z" fill="#FAFAEB"/>
<path d="M591.4 469.4 L606.7 478.1 L604.0 481.4 L590.0 473.4Z" fill="#FAFAEB"/>
<path d="M602.0 451.4 L610.0 457.4 L608.0 459.0 L601.0 453.7Z" fill="#FAFAEB"/>
<path d="M628.7 489.4 L632.1 487.4 L638.1 494.1 L635.4 496.8Z" fill="#FAFAEB"/>
<path d="M682.7 574.7 L686.7 573.4 L689.4 583.4 L685.4 584.7Z" fill="#FAFAEB"/>
<path d="M338.7 321.4 L356.1 315.4 L358.1 321.4 L340.7 327.8Z" fill="#C0E4FF"/>
<path d="M308.0 403.4 L320.7 395.4 L323.4 400.7 L310.7 408.7Z" fill="#6EC6FF"/>
<path d="M318.0 416.7 L330.0 408.7 L333.4 414.1 L320.7 422.1Z" fill="#000080"/>
<path d="M323.4 399.4 L336.7 391.4 L340.0 396.7 L326.7 404.7Z" fill="#000080"/>
<path d="M345.4 404.7 L358.1 398.0 L360.1 403.4 L348.1 410.1Z" fill="#000080"/>
<path d="M375.4 400.0 L388.1 396.0 L390.1 402.7 L378.1 406.7Z" fill="#800000"/>
<path d="M356.7 422.1 L368.7 418.1 L370.7 424.1 L359.4 428.7Z" fill="#800000"/>
<path d="M362.7 432.7 L373.4 427.4 L376.1 432.7 L365.4 438.1Z" fill="#800000"/>
<path d="M352.1 439.4 L362.7 433.4 L365.4 438.1 L354.7 444.8Z" fill="#000080"/>
<path d="M341.4 446.1 L352.1 440.1 L355.4 445.4 L344.1 452.1Z" fill="#800000"/>
<path d="M344.7 452.8 L355.4 446.1 L356.7 449.4 L346.7 456.1Z" fill="#000080"/>
<path d="M347.4 456.8 L356.7 449.4 L360.7 454.1 L352.7 458.8Z" fill="#800000"/>
<path d="M410.1 416.7 L422.1 414.1 L423.5 420.1 L411.4 423.1Z" fill="#800000"/>
<path d="M374.1 456.8 L387.4 451.4 L389.4 456.8 L383.4 458.8Z" fill="#800000"/>
<path d="M410.8 452.1 L420.1 448.8 L422.1 454.8 L412.8 458.0Z" fill="#800000"/>
<path d="M389.4 430.7 L400.8 426.7 L402.8 432.1 L391.7 436.1Z" fill="#C0E4FF"/>
<path d="M428.1 384.7 L440.0 382.0 L440.0 388.0 L429.5 390.0Z" fill="#C0E4FF"/>
<path d="M390.1 361.3 L406.1 356.7 L409.4 371.4 L395.4 376.7Z" fill="#800000"/>
<path d="M403.4 352.0 L420.1 348.7 L422.1 360.0 L407.4 363.3Z" fill="#800000"/>
<path d="M407.4 363.3 L422.1 360.0 L423.2 363.3 L409.4 367.3Z" fill="#A80000"/>
<path d="M358.0 469.4 L385.4 451.3 L388.7 456.0 L361.4 474.0Z" fill="#800000"/>
<path d="M410.1 450.0 L420.1 448.0 L422.1 454.0 L412.1 457.3Z" fill="#800000"/>
<path d="M404.1 465.4 L414.7 462.0 L416.7 468.0 L407.4 471.4Z" fill="#FF8C1A"/>
<path d="M408.1 471.4 L416.7 468.0 L420.1 477.4 L412.1 480.7Z" fill="#800000"/>
<path d="M388.7 492.7 L396.1 488.7 L399.1 494.7 L391.7 499.0Z" fill="#800000"/>
<path d="M435.4 464.7 L444.8 462.7 L445.8 468.7 L436.8 471.4Z" fill="#C0E4FF"/>
<path d="M445.4 468.7 L454.8 466.7 L456.1 472.7 L446.8 475.0Z" fill="#800000"/>
<path d="M462.8 454.7 L472.1 454.0 L473.1 460.0 L464.1 461.1Z" fill="#800000"/>
<path d="M472.8 459.4 L480.0 458.7 L480.0 465.4 L473.9 466.0Z" fill="#C0E4FF"/>
<path d="M434.0 339.3 L450.0 336.9 L451.1 343.3 L435.3 344.9Z" fill="#800000"/>
<path d="M452.4 358.3 L466.7 357.1 L467.1 363.4 L453.4 365.0Z" fill="#0A5AD0"/>
<path d="M439.3 371.4 L453.8 369.4 L454.3 375.4 L440.4 377.0Z" fill="#800000"/>
<path d="M453.8 369.4 L467.8 368.0 L468.3 374.7 L454.3 375.4Z" fill="#000080"/>
<path d="M428.7 383.4 L440.7 381.8 L442.0 388.1 L428.7 390.1Z" fill="#C0E4FF"/>
<path d="M442.7 392.1 L455.4 390.7 L456.3 396.7 L444.0 398.3Z" fill="#C0E4FF"/>
<path d="M432.9 410.1 L445.3 408.5 L446.0 414.1 L434.0 415.7Z" fill="#000080"/>
<path d="M434.7 415.7 L446.3 414.1 L447.1 420.1 L435.6 422.1Z" fill="#800000"/>
<path d="M457.1 411.4 L469.8 410.7 L470.0 417.4 L457.8 417.8Z" fill="#000080"/>
<path d="M481.4 411.1 L493.8 410.7 L494.1 416.7 L481.8 417.4Z" fill="#800000"/>
<path d="M469.4 416.1 L481.8 416.1 L482.0 427.4 L470.0 427.8Z" fill="#800000"/>
<path d="M494.1 400.5 L507.0 400.7 L506.5 407.4 L494.1 407.1Z" fill="#800000"/>
<path d="M518.1 402.7 L531.2 405.4 L529.4 416.7 L517.4 414.3Z" fill="#800000"/>
<path d="M531.4 400.1 L544.8 402.7 L543.8 409.4 L530.8 406.7Z" fill="#800000"/>
<path d="M536.8 428.8 L548.8 432.1 L547.4 438.4 L535.4 435.4Z" fill="#800000"/>
<path d="M567.5 412.1 L580.0 416.1 L580.0 422.1 L566.1 417.4Z" fill="#800000"/>
<path d="M568.8 435.4 L575.5 436.8 L574.8 438.8 L568.1 438.4Z" fill="#800000"/>
<path d="M482.0 443.0 L492.1 443.0 L492.1 449.6 L482.3 449.6Z" fill="#800000"/>
<path d="M463.1 454.7 L472.4 454.0 L473.0 460.0 L464.0 460.7Z" fill="#800000"/>
<path d="M473.0 459.4 L481.8 459.0 L482.0 465.4 L473.4 466.0Z" fill="#C0E4FF"/>
<path d="M435.3 464.7 L444.7 463.0 L445.7 469.4 L436.7 471.4Z" fill="#C0E4FF"/>
<path d="M445.7 468.7 L454.7 466.7 L456.0 472.7 L446.7 475.0Z" fill="#800000"/>
<path d="M498.1 476.1 L507.4 477.4 L506.7 483.4 L497.8 482.5Z" fill="#800000"/>
<path d="M506.7 483.4 L514.7 484.7 L513.8 490.7 L506.1 489.4Z" fill="#800000"/>
<path d="M536.1 429.1 L548.8 432.7 L547.4 438.7 L534.8 434.9Z" fill="#800000"/>
<path d="M543.4 442.7 L552.8 446.0 L550.8 451.4 L542.8 448.7Z" fill="#800000"/>
<path d="M550.8 446.0 L564.1 450.7 L560.1 460.0 L548.1 455.8Z" fill="#800000"/>
<path d="M568.1 434.7 L580.0 438.7 L577.5 445.4 L566.8 441.4Z" fill="#800000"/>
<path d="M528.8 488.7 L538.1 491.4 L536.5 498.1 L527.8 495.4Z" fill="#800000"/>
<path d="M576.8 464.0 L580.0 463.4 L580.0 471.4 L576.1 470.7Z" fill="#800000"/>
<path d="M571.5 473.4 L580.0 476.1 L580.0 482.7 L570.1 478.7Z" fill="#800000"/>
<path d="M576.1 484.1 L580.0 484.1 L580.0 492.1 L574.8 488.1Z" fill="#800000"/>
<path d="M566.1 514.1 L573.5 518.8 L569.5 524.1 L562.8 519.4Z" fill="#800000"/>
<path d="M570.0 412.0 L580.0 416.0 L578.0 422.0 L570.0 419.4Z" fill="#800000"/>
<path d="M570.0 436.0 L579.3 440.0 L576.7 446.0 L570.0 443.4Z" fill="#800000"/>
<path d="M581.3 436.0 L592.0 440.7 L589.4 446.0 L580.0 441.4Z" fill="#800000"/>
<path d="M605.4 442.7 L616.0 450.0 L619.4 446.0 L628.7 453.4 L620.7 462.1 L610.0 454.7 L602.7 448.7Z" fill="#800000"/>
<path d="M586.0 450.0 L596.0 455.4 L593.4 461.4 L584.0 456.1Z" fill="#800000"/>
<path d="M581.3 460.1 L590.7 465.4 L588.7 469.4 L596.7 476.1 L593.4 481.4 L584.7 476.1 L576.7 469.4Z" fill="#800000"/>
<path d="M572.7 473.4 L581.3 478.7 L578.0 484.1 L570.0 478.7Z" fill="#800000"/>
<path d="M578.0 483.4 L586.7 488.7 L582.7 494.1 L575.1 488.1Z" fill="#800000"/>
<path d="M618.7 466.1 L630.1 470.1 L642.1 458.1 L650.1 465.4 L655.4 462.7 L666.1 474.7 L670.8 482.7 L663.4 489.4 L671.4 498.8 L675.4 497.4 L682.1 508.8 L635.4 508.8 L623.4 493.4 L629.4 487.4 L611.4 474.7Z" fill="#800000"/>
<path d="M667.4 468.7 L672.8 466.1 L680.1 476.7 L675.4 480.1Z" fill="#800000"/>
<path d="M692.8 484.1 L698.1 480.7 L706.1 492.1 L701.5 496.8Z" fill="#800000"/>
<path d="M679.4 494.1 L685.4 490.8 L691.4 500.1 L686.8 504.8Z" fill="#800000"/>
<path d="M628.7 500.0 L680.1 500.0 L682.1 507.3 L678.7 510.7 L683.4 521.4 L680.1 524.0 L685.4 533.4 L690.8 532.0 L694.1 542.7 L690.8 546.0 L694.1 554.7 L700.1 556.1 L702.8 565.4 L693.4 570.1 L690.8 564.1 L688.1 560.7 L672.7 564.7 L668.1 556.1 L665.4 556.7 L658.7 544.0 L655.4 537.4 L650.7 526.7 L653.4 525.4 L642.7 508.0 L638.7 508.0 L634.7 506.0Z" fill="#800000"/>
<path d="M682.7 500.0 L692.1 500.0 L693.4 502.7 L686.7 504.7Z" fill="#800000"/>
<path d="M702.8 510.7 L713.4 506.0 L724.8 530.7 L718.8 532.7 L713.4 521.4 L708.1 522.7Z" fill="#800000"/>
<path d="M724.1 516.0 L734.8 512.0 L740.8 525.4 L730.1 530.0Z" fill="#800000"/>
<path d="M693.4 516.0 L698.8 514.0 L704.1 524.0 L698.8 526.7Z" fill="#800000"/>
<path d="M694.1 530.7 L700.8 528.7 L704.8 538.7 L698.8 541.4Z" fill="#800000"/>
<path d="M704.1 554.1 L710.8 552.7 L714.1 564.1 L707.4 566.5Z" fill="#800000"/>
<path d="M645.4 552.7 L650.7 550.7 L654.7 560.7 L649.1 562.7Z" fill="#800000"/>
<path d="M658.7 558.1 L665.4 556.1 L668.7 565.4 L662.1 567.4Z" fill="#800000"/>
<path d="M690.1 584.1 L696.1 582.7 L699.4 598.8 L700.1 608.4 L686.7 608.4 L687.4 596.8 L692.1 595.4Z" fill="#800000"/>
<path d="M700.1 581.4 L706.8 580.1 L709.4 592.1 L702.8 593.4Z" fill="#800000"/>
<path d="M670.1 599.4 L676.7 598.1 L678.1 608.4 L671.4 608.4Z" fill="#800000"/>
<path d="M738.1 573.4 L743.5 572.1 L746.8 586.7 L741.5 588.1Z" fill="#800000"/>
<path d="M708.1 593.4 L714.1 592.1 L716.1 604.8 L710.1 605.4Z" fill="#000080"/>
<path d="M610.7 568.7 L616.7 566.7 L619.4 575.4 L614.0 577.4Z" fill="#2A9DF4"/>
<path d="M600.0 540.0 L602.0 539.4 L604.0 544.7 L600.0 546.7Z" fill="#800000"/>
<path d="M586.0 366.7 L600.7 372.7 L598.0 378.7 L584.0 372.7Z" fill="#800000"/>
<path d="M568.0 411.4 L580.0 416.7 L578.0 422.1 L566.0 417.4Z" fill="#800000"/>
<path d="M638.1 362.0 L653.4 370.7 L650.5 376.7 L635.1 367.8Z" fill="#0A3CB8"/>
<path d="M658.8 362.7 L673.4 371.4 L670.8 376.7 L655.4 368.0Z" fill="#001AA0"/>
<path d="M655.4 368.0 L670.8 376.7 L667.4 382.0 L653.2 373.4Z" fill="#0A3CB8"/>
<path d="M661.4 357.8 L676.1 366.7 L673.4 371.4 L658.8 362.7Z" fill="#1E9FFF"/>
<path d="M667.4 348.0 L682.1 357.4 L678.8 362.7 L664.1 353.4Z" fill="#0A28A8"/>
<path d="M682.1 357.4 L696.8 368.7 L693.5 374.7 L678.8 362.7Z" fill="#000080"/>
<path d="M676.1 367.4 L690.1 377.4 L686.8 382.7 L673.4 372.0Z" fill="#0A50C8"/>
<path d="M693.5 374.7 L706.8 384.7 L703.5 390.1 L690.1 379.4Z" fill="#5ABEFF"/>
<path d="M686.8 382.0 L690.1 378.7 L703.5 390.1 L699.5 394.1Z" fill="#1E9FFF"/>
<path d="M690.0 365.0 L694.0 366.7 L696.7 370.0 L694.0 374.7 L690.0 372.7Z" fill="#000080"/>
<path d="M710.0 381.4 L718.0 374.0 L732.4 387.1 L728.7 391.7 L740.0 403.1 L737.4 408.7 L725.0 396.1 L722.0 392.7Z" fill="#7CCBFF"/>
<path d="M700.0 394.1 L704.0 390.1 L718.7 402.1 L723.4 395.4 L737.4 408.7 L726.0 419.4 L722.0 418.1 L712.0 406.1 L707.3 402.7Z" fill="#800000"/>
<path d="M740.7 404.7 L745.4 401.0 L758.1 416.1 L753.8 420.1Z" fill="#800000"/>
<path d="M727.1 332.0 L734.0 329.3 L739.4 330.7 L748.1 340.7 L744.1 346.0 L737.4 342.0Z" fill="#0A78E8"/>
<path d="M736.0 354.0 L742.7 346.0 L749.4 350.0 L762.7 356.0 L778.7 372.0 L792.1 388.1 L775.4 403.1 L761.4 388.1 L762.7 384.1 L752.1 373.4Z" fill="#0A96F8"/>
<path d="M758.7 360.7 L763.1 356.0 L778.7 372.0 L773.4 376.7Z" fill="#0A78E8"/>
<path d="M743.1 376.0 L747.4 372.0 L761.4 385.4 L756.7 390.7Z" fill="#0A78E8"/>
<path d="M756.7 391.4 L761.4 388.1 L775.4 403.1 L770.1 407.1Z" fill="#C4E6FF"/>
<path d="M829.9 413.8 L840.5 407.6 L853.0 428.0 L842.8 434.3Z" fill="#800000"/>
<path d="M588.0 254.0 L630.7 267.4 L625.4 283.4 L622.1 288.0 L608.7 295.4 L580.0 286.0Z" fill="#F06000"/>
<path d="M559.3 281.4 L616.7 298.7 L643.4 312.1 L683.5 326.7 L680.8 332.1 L658.8 329.4 L614.1 305.4 L558.0 288.7Z" fill="#E04000"/>
<path d="M588.0 254.0 L610.1 260.0 L608.7 265.4 L586.0 260.0Z" fill="#DC3C00"/>
<path d="M610.1 260.0 L630.7 267.4 L628.7 272.7 L608.7 265.4Z" fill="#F06000"/>
<path d="M586.0 260.0 L608.7 265.4 L607.4 270.7 L584.7 265.4Z" fill="#F06000"/>
<path d="M608.7 265.4 L628.7 272.7 L627.4 277.4 L607.4 270.7Z" fill="#E85000"/>
<path d="M584.7 265.4 L607.4 270.7 L606.1 275.8 L583.4 270.4Z" fill="#C01800"/>
<path d="M607.4 270.7 L616.7 273.4 L615.4 278.7 L606.1 275.8Z" fill="#D02800"/>
<path d="M616.7 273.4 L627.4 277.4 L625.4 283.4 L615.4 278.7Z" fill="#C81800"/>
<path d="M583.4 270.4 L604.7 276.0 L602.7 281.4 L582.0 276.0Z" fill="#FF7A00"/>
<path d="M582.0 276.0 L602.7 281.4 L600.7 292.0 L580.0 286.0Z" fill="#F86800"/>
<path d="M602.7 280.7 L612.1 284.0 L610.1 290.0 L600.7 286.7Z" fill="#FF9830"/>
<path d="M612.7 284.7 L622.1 288.0 L620.1 293.4 L610.7 290.0Z" fill="#FF9830"/>
<path d="M600.7 286.7 L610.7 290.0 L608.7 295.4 L598.7 292.0Z" fill="#F06000"/>
<path d="M561.3 275.0 L581.4 280.0 L580.0 285.4 L560.0 280.0Z" fill="#FFC080"/>
<path d="M559.3 281.4 L580.0 286.0 L598.0 291.4 L608.7 295.4 L616.7 298.7 L614.1 305.4 L606.1 302.7 L594.0 298.7 L576.7 293.4 L558.0 288.7Z" fill="#CC1C00"/>
<path d="M579.4 286.7 L598.7 291.4 L597.4 296.7 L578.0 291.4Z" fill="#B00800"/>
<path d="M575.4 296.1 L594.7 301.4 L593.4 306.7 L574.0 300.7Z" fill="#FF8C10"/>
<path d="M594.7 302.7 L606.1 305.4 L604.7 310.7 L593.4 308.1Z" fill="#FFD8B0"/>
<path d="M590.0 308.1 L601.4 311.4 L600.0 314.7 L589.4 311.4Z" fill="#FFE2C4"/>
<path d="M602.0 312.7 L610.1 314.7 L608.7 318.1 L602.7 316.7Z" fill="#FFE2C4"/>
<path d="M611.4 309.4 L630.1 316.7 L628.7 320.1 L610.1 314.1Z" fill="#FFD8B0"/>
<path d="M618.7 293.4 L628.7 297.4 L626.7 302.7 L616.7 298.7Z" fill="#FF9830"/>
<path d="M616.7 298.7 L626.7 302.7 L624.7 308.7 L614.7 304.7Z" fill="#F06000"/>
<path d="M614.7 304.7 L624.7 308.7 L622.7 312.7 L612.7 309.4Z" fill="#E84C00"/>
<path d="M630.1 292.0 L638.7 296.1 L636.7 300.7 L628.7 297.4Z" fill="#FFC890"/>
<path d="M628.7 297.4 L636.7 300.7 L634.7 306.7 L626.7 302.7Z" fill="#F86800"/>
<path d="M626.7 302.7 L634.7 306.7 L632.7 312.7 L624.7 308.7Z" fill="#FF7000"/>
<path d="M624.7 308.7 L632.7 312.7 L642.1 317.4 L640.1 321.4 L630.1 316.7 L622.7 312.7Z" fill="#CC1C00"/>
<path d="M638.7 296.1 L649.4 301.4 L647.4 306.1 L636.7 300.7Z" fill="#FFD0A0"/>
<path d="M636.7 300.7 L647.4 306.1 L645.4 312.1 L634.7 306.7Z" fill="#F86000"/>
<path d="M634.7 306.7 L645.4 312.1 L643.4 317.4 L632.7 312.7Z" fill="#F05000"/>
<path d="M643.4 312.1 L662.1 320.1 L658.8 329.4 L640.8 321.4Z" fill="#DC3C00"/>
<path d="M649.4 296.1 L668.8 305.4 L666.8 310.1 L647.4 301.4Z" fill="#FFB868"/>
<path d="M647.4 301.4 L666.8 310.1 L664.8 314.7 L646.1 306.1Z" fill="#FFD4A8"/>
<path d="M646.1 306.1 L664.8 314.7 L662.8 320.1 L644.1 312.1Z" fill="#F06000"/>
<path d="M670.8 300.7 L690.8 310.7 L688.8 315.4 L668.8 305.4Z" fill="#FFD8B0"/>
<path d="M668.8 305.4 L688.8 315.4 L686.1 320.1 L666.8 310.1Z" fill="#FFB050"/>
<path d="M666.8 310.1 L686.1 320.1 L683.5 325.4 L664.8 314.7Z" fill="#FFA030"/>
<path d="M662.8 316.7 L683.5 326.7 L680.8 332.1 L662.1 321.4Z" fill="#B00800"/>
<path d="M658.8 322.7 L678.1 332.1 L676.1 336.1 L658.8 328.1Z" fill="#D83000"/>
<path d="M680.1 325.4 L698.8 337.4 L695.5 342.1 L678.1 331.4Z" fill="#8A0000"/>
<path d="M569.4 315.8 L587.1 321.4 L585.8 326.7 L568.0 320.7Z" fill="#F05A10"/>
<path d="M670.8 250.7 L692.8 261.4 L690.8 267.4 L668.8 256.7Z" fill="#8A0000"/>
<path d="M765.1 515.0 L770.7 513.1 L777.1 530.1 L771.8 532.1Z" fill="#800000"/>
<path d="M862.1 567.4 L870.0 566.1 L870.0 588.7 L865.5 588.7Z" fill="#800000"/>
<path d="M915.4 452.0 L926.1 448.0 L936.1 473.4 L925.4 477.4Z" fill="#C6C6C6"/>
<path d="M931.4 445.3 L938.1 443.3 L947.8 468.7 L942.1 471.8Z" fill="#BEBEBE"/>
<path d="M878.3 468.0 L884.7 466.0 L893.4 488.7 L887.4 490.7Z" fill="#800000"/>
<path d="M898.5 486.7 L904.7 484.7 L918.7 532.1 L912.7 534.1Z" fill="#800000"/>
<path d="M928.3 503.4 L935.0 502.1 L941.7 527.4 L935.8 529.4Z" fill="#800000"/>
<path d="M884.3 516.7 L890.7 515.3 L902.1 560.7 L895.8 562.7Z" fill="#800000"/>
<path d="M947.2 526.0 L953.4 524.7 L959.8 551.4 L953.4 553.4Z" fill="#800000"/>
<path d="M862.0 567.4 L874.0 566.0 L877.1 587.4 L865.4 588.7Z" fill="#800000"/>
<path d="M884.3 564.0 L890.4 563.0 L894.1 585.4 L888.0 586.1Z" fill="#800000"/>
<path d="M662.7 111.6 L692.0 122.2 L690.2 128.6 L660.8 118.0Z" fill="#C00000"/>
<path d="M1022.8 509.4 L1030.8 507.5 L1037.5 538.8 L1030.0 540.9Z" fill="#BFE3FF"/>
<path d="M412.1 315.3 L430.2 312.6 L430.8 319.6 L413.4 321.4Z" fill="#0A3CB8"/>
<path d="M413.4 321.4 L430.8 319.6 L431.6 325.4 L414.2 327.6Z" fill="#FFDDC0"/>
<path d="M414.2 327.6 L431.6 325.4 L432.7 330.8 L415.3 332.6Z" fill="#00189A"/>
<path d="M459.8 571.7 L464.0 571.2 L465.1 576.0 L460.8 577.6Z" fill="#000080"/>
<path d="M453.3 581.4 L457.6 579.8 L459.2 585.1 L454.9 586.7Z" fill="#000080"/>
<path d="M492.3 579.8 L497.1 580.3 L495.5 586.7 L492.3 585.6Z" fill="#000080"/>
<path d="M474.2 590.4 L477.4 590.1 L478.2 596.8 L474.7 596.8Z" fill="#C0E4FF"/>
<path d="M485.4 602.2 L489.6 602.2 L489.1 609.6 L485.7 609.1Z" fill="#000080"/>
<path d="M483.2 602.7 L485.4 602.7 L485.9 615.0 L483.2 615.0Z" fill="#800000"/>
<path d="M508.3 608.0 L517.9 602.7 L519.5 605.9 L509.4 611.8Z" fill="#800000"/>
<path d="M491.8 618.2 L503.0 611.8 L504.6 615.0 L492.8 620.9Z" fill="#800000"/>
<path d="M528.1 599.0 L532.9 596.3 L536.1 598.4 L540.9 596.8 L542.0 601.1 L537.7 604.3 L536.6 607.0 L532.3 608.6 L530.7 604.8Z" fill="#800000"/>
<path d="M588.5 533.5 L595.0 530.5 L604.0 546.0 L597.5 549.5Z" fill="#800000"/>
<path d="M628.7 489.4 L632.1 487.4 L638.1 494.1 L635.4 496.8Z" fill="#FAFAEC"/>
<path d="M629.6 470.3 L632.3 467.6 L638.5 477.4 L635.8 480.1Z" fill="#C8C8C9"/>
<path d="M676.1 539.4 L679.4 538.0 L683.4 547.4 L680.1 549.4Z" fill="#C8C8C9"/>
</g>
<rect x="765" y="810" width="355" height="1" fill="#FAFAEB"/>
<circle cx="483" cy="623.8" r="3.3" fill="#666"/>
<g font-size="13.6px"><text x="450.5" y="646.5">cvw</text><text x="490.5" y="646.5">cve</text></g>
<g font-size="18.4px"><text x="6" y="15.1">November, 4 2018</text><text x="6" y="31.5">2138:00 UT</text></g>
<text x="1014" y="19.6" font-size="17.4px">Velocity (m/s)</text>
<defs>
<linearGradient id="g0" x1="0" y1="0" x2="0" y2="1"><stop offset="0" stop-color="#CDEEFF"/><stop offset="1" stop-color="#5EBEFF"/></linearGradient>
<linearGradient id="g1" x1="0" y1="0" x2="0" y2="1"><stop offset="0" stop-color="#2FA8FF"/><stop offset="1" stop-color="#0892F5"/></linearGradient>
<linearGradient id="g2" x1="0" y1="0" x2="0" y2="1"><stop offset="0" stop-color="#0A80E8"/><stop offset="1" stop-color="#0A5CCC"/></linearGradient>
<linearGradient id="g3" x1="0" y1="0" x2="0" y2="1"><stop offset="0" stop-color="#0A48B8"/><stop offset="1" stop-color="#00209A"/></linearGradient>
<linearGradient id="g4" x1="0" y1="0" x2="0" y2="1"><stop offset="0" stop-color="#001494"/><stop offset="1" stop-color="#000070"/></linearGradient>
<linearGradient id="g5" x1="0" y1="0" x2="0" y2="1"><stop offset="0" stop-color="#780000"/><stop offset="1" stop-color="#A00000"/></linearGradient>
<linearGradient id="g6" x1="0" y1="0" x2="0" y2="1"><stop offset="0" stop-color="#A80000"/><stop offset="1" stop-color="#D42800"/></linearGradient>
<linearGradient id="g7" x1="0" y1="0" x2="0" y2="1"><stop offset="0" stop-color="#DC3800"/><stop offset="1" stop-color="#F86C00"/></linearGradient>
<linearGradient id="g8" x1="0" y1="0" x2="0" y2="1"><stop offset="0" stop-color="#FF7800"/><stop offset="1" stop-color="#FFA030"/></linearGradient>
<linearGradient id="g9" x1="0" y1="0" x2="0" y2="1"><stop offset="0" stop-color="#FFB464"/><stop offset="1" stop-color="#FFE6C8"/></linearGradient>
</defs>
<rect x="1057.6" y="44.20" width="17.0" height="27.05" fill="url(#g0)"/>
<rect x="1057.6" y="71.25" width="17.0" height="27.05" fill="url(#g1)"/>
<rect x="1057.6" y="98.30" width="17.0" height="27.05" fill="url(#g2)"/>
<rect x="1057.6" y="125.35" width="17.0" height="27.05" fill="url(#g3)"/>
<rect x="1057.6" y="152.40" width="17.0" height="27.60" fill="url(#g4)"/>
<rect x="1057.6" y="179.45" width="17.0" height="27.55" fill="url(#g5)"/>
<rect x="1057.6" y="207.00" width="17.0" height="27.00" fill="url(#g6)"/>
<rect x="1057.6" y="234.00" width="17.0" height="27.00" fill="url(#g7)"/>
<rect x="1057.6" y="261.00" width="17.0" height="27.00" fill="url(#g8)"/>
<rect x="1057.6" y="288.00" width="17.0" height="27.00" fill="url(#g9)"/>
<rect x="1057.6" y="176.80" width="17.0" height="6.20" fill="#E2E2E2"/>
<g stroke="#000" stroke-width="1" fill="none" shape-rendering="crispEdges">
<rect x="1057.6" y="44.20" width="17.0" height="270.80"/>
<path d="M1057.6 71.25 H1074.6"/>
<path d="M1057.6 98.30 H1074.6"/>
<path d="M1057.6 125.35 H1074.6"/>
<path d="M1057.6 152.40 H1074.6"/>
<path d="M1057.6 180.20 H1074.6"/>
<path d="M1057.6 207.00 H1074.6"/>
<path d="M1057.6 234.00 H1074.6"/>
<path d="M1057.6 261.00 H1074.6"/>
<path d="M1057.6 288.00 H1074.6"/>
</g>
<g font-size="13.4px">
<text x="1049.6" y="44.5" text-anchor="end">500</text>
<text x="1049.6" y="71.5" text-anchor="end">400</text>
<text x="1049.6" y="98.6" text-anchor="end">300</text>
<text x="1049.6" y="125.7" text-anchor="end">200</text>
<text x="1049.6" y="152.7" text-anchor="end">100</text>
<text x="1049.6" y="179.9" text-anchor="end">0</text>
<text x="1049.6" y="207.3" text-anchor="end">-100</text>
<text x="1049.6" y="234.3" text-anchor="end">-200</text>
<text x="1049.6" y="261.3" text-anchor="end">-300</text>
<text x="1049.6" y="288.3" text-anchor="end">-400</text>
<text x="1049.6" y="315.3" text-anchor="end">-500</text>
<text x="1083.2" y="56.6">toward</text><text x="1083.4" y="176.8">10</text><text x="1083.4" y="193.4">-10</text><text x="1083.2" y="314.4">away</text>
</g>
<text x="111.6" y="564.0" font-size="18.3px">Frequency</text>
<g font-size="16.8px"><text x="114.4" y="582.9">cvw</text><text x="168.2" y="582.9">cve</text></g>
<g stroke="#000" stroke-width="1" fill="none" shape-rendering="crispEdges">
<rect x="120.4" y="589.4" width="17.3" height="170.0"/>
<path d="M120.4 606.4 h17.3"/>
<path d="M120.4 623.4 h17.3"/>
<path d="M120.4 640.4 h17.3"/>
<path d="M120.4 657.4 h17.3"/>
<path d="M120.4 674.4 h17.3"/>
<path d="M120.4 691.4 h17.3"/>
<path d="M120.4 708.4 h17.3"/>
<path d="M120.4 725.4 h17.3"/>
<path d="M120.4 742.4 h17.3"/>
<rect x="172.3" y="589.4" width="17.3" height="170.0"/>
<path d="M172.3 606.4 h17.3"/>
<path d="M172.3 623.4 h17.3"/>
<path d="M172.3 640.4 h17.3"/>
<path d="M172.3 657.4 h17.3"/>
<path d="M172.3 674.4 h17.3"/>
<path d="M172.3 691.4 h17.3"/>
<path d="M172.3 708.4 h17.3"/>
<path d="M172.3 725.4 h17.3"/>
<path d="M172.3 742.4 h17.3"/>
</g>
<g font-size="13.2px">
<text x="112.6" y="596.1" text-anchor="end">18</text>
<text x="198.8" y="596.1">18</text>
<text x="112.6" y="613.1" text-anchor="end">17</text>
<text x="198.8" y="613.1">17</text>
<text x="112.6" y="630.1" text-anchor="end">16</text>
<text x="198.8" y="630.1">16</text>
<text x="112.6" y="647.1" text-anchor="end">15</text>
<text x="198.8" y="647.1">15</text>
<text x="112.6" y="664.1" text-anchor="end">14</text>
<text x="198.8" y="664.1">14</text>
<text x="112.6" y="681.1" text-anchor="end">13</text>
<text x="198.8" y="681.1">13</text>
<text x="112.6" y="698.1" text-anchor="end">12</text>
<text x="198.8" y="698.1">12</text>
<text x="112.6" y="715.1" text-anchor="end">11</text>
<text x="198.8" y="715.1">11</text>
<text x="112.6" y="732.1" text-anchor="end">10</text>
<text x="198.8" y="732.1">10</text>
<text x="112.6" y="749.1" text-anchor="end">9</text>
<text x="198.8" y="749.1">9</text>
<text x="112.6" y="766.1" text-anchor="end">8</text>
<text x="198.8" y="766.1">8</text>
</g>
<rect x="117.2" y="643" width="23.6" height="3.8" fill="#FF3300"/><rect x="170.1" y="643" width="22.8" height="3.8" fill="#FF3300"/>
</g>
</svg></body></html>
